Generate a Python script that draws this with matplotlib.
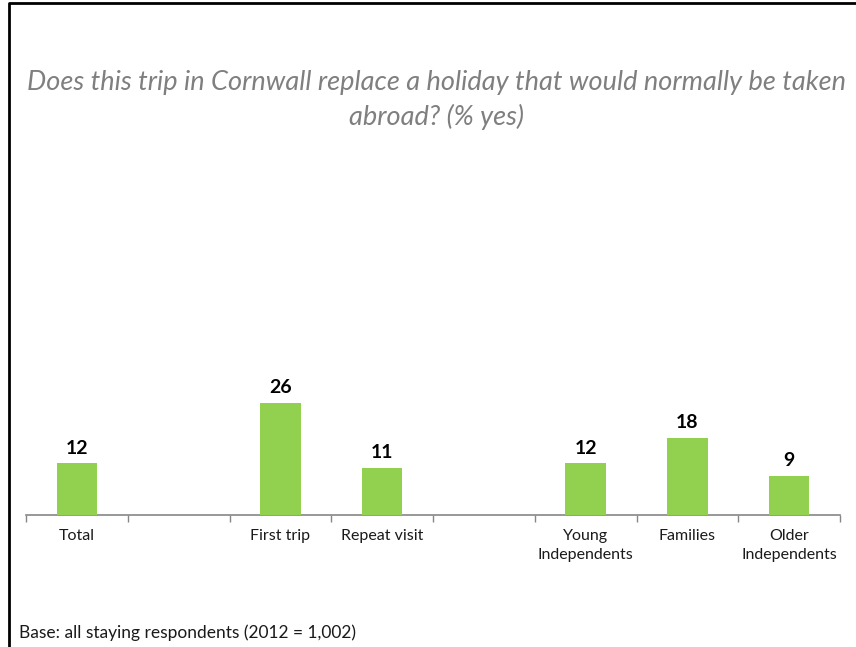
import numpy as np
import matplotlib
matplotlib.use("Agg")
import matplotlib.pyplot as plt
from matplotlib.lines import Line2D
from matplotlib.ticker import FixedLocator

# ── Data ──
categories = ["Total", "", "First trip", "Repeat visit", "",
              "Young\nIndependents", "Families", "Older\nIndependents"]
values = [12, None, 26, 11, None, 12, 18, 9]

title = ("Does this trip in Cornwall replace a holiday that would normally be taken\n"
         "abroad? (% yes)")
footnote = "Base: all staying respondents (2012 = 1,002)"

plt.rcParams["font.family"] = ["Lato", "DejaVu Sans"]

W, H = 856, 647
fig = plt.figure(figsize=(W / 100, H / 100), dpi=100)
ax = fig.add_axes([26 / W, 1 - 515 / H, (840 - 26) / W, (515 - 171) / H])

x = np.arange(len(categories))
bx = [xi for xi, v in zip(x, values) if v is not None]
bv = [v for v in values if v is not None]
ax.bar(bx, bv, width=0.4, color="#92D050", zorder=3)

for xi, v in zip(bx, bv):
    ax.text(xi, v + 1.6, f"{v}", ha="center", va="bottom",
            fontsize=14, fontweight="bold", color="black")

ax.set_xlim(-0.5, len(categories) - 0.5)
ax.set_ylim(0, 80)
ax.set_xticks(x)
ax.set_xticklabels(categories, fontsize=11.5, color="#1a1a1a", linespacing=1.5)
ax.tick_params(axis="x", which="major", length=0, pad=10)
ax.xaxis.set_minor_locator(FixedLocator(np.arange(len(categories) + 1) - 0.5))
ax.tick_params(axis="x", which="minor", length=5, color="#868686", width=1)
ax.set_yticks([])
for s in ["top", "right", "left"]:
    ax.spines[s].set_visible(False)
ax.spines["bottom"].set_color("#868686")
ax.spines["bottom"].set_linewidth(1.2)

fig.text(437 / W, 1 - 100 / H, title, ha="center", va="center",
         fontsize=19.5, style="italic", color="#7f7f7f", linespacing=1.45)
fig.text(19 / W, 1 - 633 / H, footnote, ha="left", va="center",
         fontsize=12.5, color="#1a1a1a")

# Frame around the slide
fig.add_artist(Line2D([9 / W, 9 / W, 1], [0, 1 - 3 / H, 1 - 3 / H],
                      color="black", linewidth=2, transform=fig.transFigure))

fig.savefig("out.png", dpi=100, facecolor="white")
